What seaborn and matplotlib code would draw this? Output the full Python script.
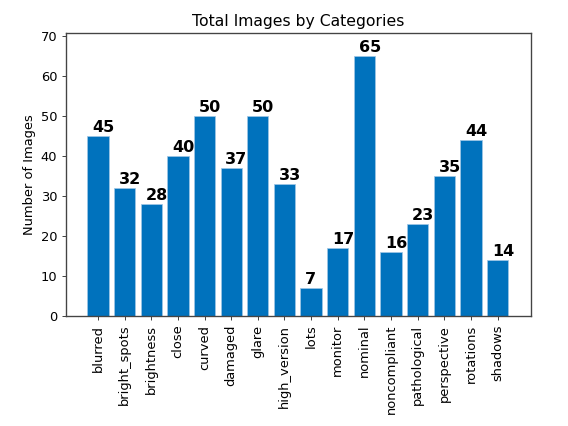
import pandas as pd
import matplotlib
matplotlib.use("Agg")
import matplotlib.pyplot as plt
import seaborn as sns

# -------------------------
# Data
# -------------------------
categories = ["blurred", "bright_spots", "brightness", "close", "curved", "damaged",
              "glare", "high_version", "lots", "monitor", "nominal", "noncompliant",
              "pathological", "perspective", "rotations", "shadows"]
counts = [45, 32, 28, 40, 50, 37, 50, 33, 7, 17, 65, 16, 23, 35, 44, 14]

df = pd.DataFrame({"category": categories, "count": counts})

plt.rcParams["font.size"] = 10.6
plt.rcParams["axes.edgecolor"] = "#444444"
plt.rcParams["axes.linewidth"] = 1.1
plt.rcParams["xtick.color"] = "#444444"
plt.rcParams["ytick.color"] = "#444444"
plt.rcParams["xtick.labelcolor"] = "black"
plt.rcParams["ytick.labelcolor"] = "black"

# -------------------------
# Plot
# -------------------------
fig = plt.figure(figsize=(6.4, 4.8), dpi=88.75)
ax = fig.add_axes([0.116, 0.258, 0.819, 0.664])

sns.barplot(data=df, x="category", y="count", color="#0072BD", saturation=1,
            width=0.8, edgecolor="#9fc6e6", linewidth=0.6, ax=ax)

for i, v in enumerate(counts):
    ax.text(i - 0.22, v + 1, str(v), fontsize=13, fontweight="bold")

ax.set_xlim(-1.2, 16.25)
ax.set_ylim(0, 70.8)
ax.set_yticks(range(0, 71, 10))
ax.set_xlabel("")
ax.set_ylabel("Number of Images")
ax.set_title("Total Images by Categories", fontsize=12.7)
ax.tick_params(axis="x", rotation=90)

fig.savefig("out.png", dpi=88.75)
